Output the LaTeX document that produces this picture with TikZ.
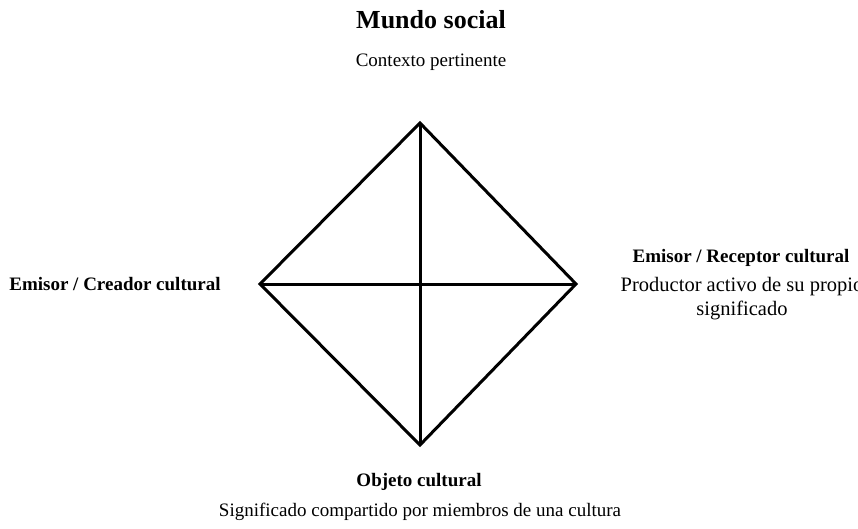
\documentclass[tikz,border=0pt]{standalone}
\usepackage{fontspec}
\setmainfont{Liberation Serif}
\tikzset{
  edge/.style={line width=3pt, line join=miter, line cap=butt},
  boldlbl/.style={font=\fontsize{19}{22}\selectfont\bfseries, inner sep=0pt},
  plainlbl/.style={font=\fontsize{19}{24}\selectfont, inner sep=0pt, align=center},
}
\begin{document}
\begin{tikzpicture}[x=1pt,y=-1pt]
\useasboundingbox (0,0) rectangle (858,529);
\coordinate (T) at (420,123);
\coordinate (R) at (576,284);
\coordinate (B) at (420,445);
\coordinate (L) at (260,284);
\draw[edge] (T) -- (R) -- (B) -- (L) -- cycle;
\draw[edge] (T) -- (B);
\draw[edge] (L) -- (R);
\node[font=\fontsize{26}{28}\selectfont\bfseries, inner sep=0pt] (title) at (431,20) {Mundo social};
\node[plainlbl] (ctx) at (431,62) {Contexto pertinente};
\node[boldlbl] (left) at (115,284) {Emisor / Creador cultural};
\node[boldlbl] (right) at (741,258) {Emisor / Receptor cultural};
\node[plainlbl, font=\fontsize{20.5}{24}\selectfont] (rightdesc) at (742,299) {Productor activo de su propio\\significado};
\node[boldlbl] (bottom) at (419,482) {Objeto cultural};
\node[plainlbl] (bottomdesc) at (420,512) {Significado compartido por miembros de una cultura};
\end{tikzpicture}
\end{document}
